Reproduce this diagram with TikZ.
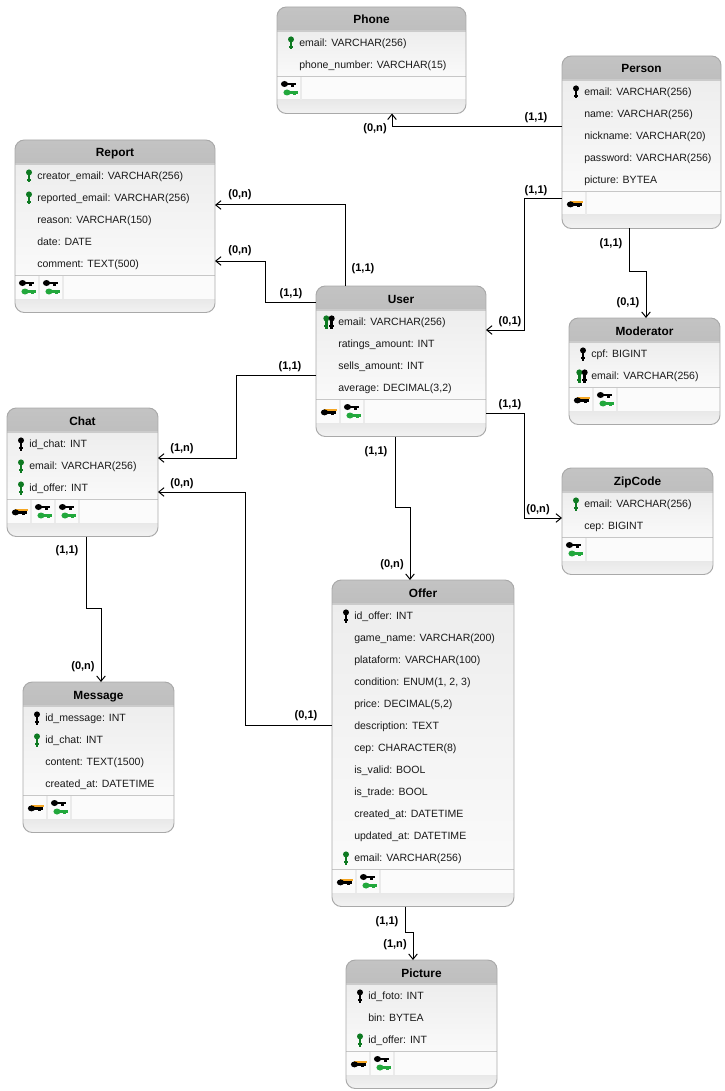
\documentclass[tikz,border=0pt]{standalone}
\usepackage{fontspec}
\setmainfont{Liberation Sans}
\usepackage{xcolor}
\usetikzlibrary{arrows.meta,calc}

\definecolor{headgray}{HTML}{BEBEBE}
\definecolor{edgegray}{HTML}{A9A9A9}
\definecolor{fkgreen}{HTML}{0E7A22}
\definecolor{fklight}{HTML}{22A83C}
\definecolor{pkorange}{HTML}{F5A623}

% one table: name, x, y, width, rows, title, fields, index cells
\newcommand{\entity}[8]{
  \pgfmathsetmacro{\bandtop}{26+22*#5}
  \pgfmathsetmacro{\boxh}{\bandtop+36.5}
  \node[entity, minimum width=#4*0.75pt, minimum height=\boxh*0.75pt] (#1) at (#2+#4/2,#3+\boxh/2) {};
  \begin{scope}
    \clip[rounded corners=7pt] (#1.north west) rectangle (#1.south east);
    \shade[top color=headgray!92!white, bottom color=headgray] (#2,#3) rectangle ++(#4,24);
    \shade[top color=black!7, bottom color=black!2] (#2,#3+24) rectangle ++(#4,\bandtop-24);
    \fill[black!1.5] (#2,#3+\bandtop) rectangle ++(#4,23);
    \shade[top color=black!9, bottom color=black!5] (#2,#3+\bandtop+23) rectangle ++(#4,13.5);
    \draw[edgegray!60, line width=1.1pt] (#2,#3+24) -- ++(#4,0);
    \draw[edgegray!65, line width=1.1pt] (#2,#3+\bandtop-0.5) -- ++(#4,0);
  \end{scope}
  \draw[entityedge] (#1.north west) rectangle (#1.south east);
  \node[tabletitle] (#1-title) at (#1.north |- 0,#3+17) {#6};
  \foreach \kind/\txt [count=\i] in {#7} {
    \pgfmathsetmacro{\rowy}{#3+13+22*\i}
    \node[fieldtext] (#1-f\i) at (#2+22,\rowy+4.7) {\txt};
    \pic at (#2+14,\rowy+1) {\kind};
  }
  \foreach \kind [count=\i] in {#8} {
    \draw[cellsep] (#2+24*\i,#3+\bandtop) -- ++(0,23);
    \pic at (#2+12+24*\i-24,#3+\bandtop+11.5) {\kind};
  }
}

\begin{document}
\begin{tikzpicture}[
    x=0.75pt, y=-0.75pt,
    font=\fontsize{7.9}{10}\selectfont,
    entity/.style     = {inner sep=0pt, outer sep=0pt, rounded corners=7pt},
    entityedge/.style = {draw=edgegray, line width=0.7pt, rounded corners=7pt},
    tabletitle/.style = {font=\fontsize{8.9}{10}\selectfont\bfseries, inner sep=0pt, anchor=base},
    fieldtext/.style  = {anchor=base west, inner sep=0pt, text=black!90},
    card/.style       = {font=\fontsize{8.3}{10}\selectfont\bfseries, inner sep=0pt},
    cellsep/.style    = {draw=black!8, line width=1.2pt},
    rel/.style        = {-{Straight Barb[length=4pt,width=6.5pt]}, line width=0.75pt},
    % field key glyphs
    pics/plain/.style = {code={}},
    pics/keyup/.style = {code={
        \fill[#1] (0,-3.6) circle[radius=3];
        \fill[#1] (-1.3,-3.6) rectangle (1.3,6.5);
        \fill[#1] (-2.4,3.2) rectangle (1.8,5);
    }},
    pics/pk/.style   = {code={\pic {keyup=black};}},
    pics/fk/.style   = {code={\pic {keyup=fkgreen};}},
    pics/both/.style = {code={\pic at (-3.7,0) {keyup=fkgreen}; \pic at (1.7,0) {keyup=black};}},
    % index cell glyphs
    pics/keyflat/.style = {code={
        \fill[#1] (-3.5,0) ellipse[x radius=3.6, y radius=3];
        \fill[#1] (-3.5,-1.4) rectangle (7.5,1.4);
        \fill[#1] (2.5,0) rectangle (5.5,2.8);
    }},
    pics/primary/.style = {code={
        \fill[pkorange] (-4,-2.6) rectangle (8.5,-0.4);
        \pic at (0,0.9) {keyflat=black};
    }},
    pics/foreign/.style = {code={
        \pic at (-1,-4.5) {keyflat=black};
        \pic at (1.5,4) {keyflat=fklight};
    }},
]
\useasboundingbox (0,0) rectangle (724,1091);

% ============ Tables, top of the sheet ============
\entity{phone}{277}{7}{189}{2}{Phone}
  {fk/{email: VARCHAR(256)}, plain/{phone\_number: VARCHAR(15)}}{foreign}
\entity{person}{562}{56}{159}{5}{Person}
  {pk/{email: VARCHAR(256)}, plain/{name: VARCHAR(256)}, plain/{nickname: VARCHAR(20)},
   plain/{password: VARCHAR(256)}, plain/{picture: BYTEA}}{primary}
\entity{report}{15}{140}{200}{5}{Report}
  {fk/{creator\_email: VARCHAR(256)}, fk/{reported\_email: VARCHAR(256)},
   plain/{reason: VARCHAR(150)}, plain/{date: DATE}, plain/{comment: TEXT(500)}}{foreign,foreign}

% ============ Tables, middle ============
\entity{user}{316}{286}{170}{4}{User}
  {both/{email: VARCHAR(256)}, plain/{ratings\_amount: INT}, plain/{sells\_amount: INT},
   plain/{average: DECIMAL(3,2)}}{primary,foreign}
\entity{moderator}{569}{318}{151}{2}{Moderator}
  {pk/{cpf: BIGINT}, both/{email: VARCHAR(256)}}{primary,foreign}
\entity{chat}{7}{408}{151}{3}{Chat}
  {pk/{id\_chat: INT}, fk/{email: VARCHAR(256)}, fk/{id\_offer: INT}}{primary,foreign,foreign}
\entity{zipcode}{562}{468}{151}{2}{ZipCode}
  {fk/{email: VARCHAR(256)}, plain/{cep: BIGINT}}{foreign}

% ============ Tables, bottom ============
\entity{offer}{332}{580}{182}{12}{Offer}
  {pk/{id\_offer: INT}, plain/{game\_name: VARCHAR(200)}, plain/{plataform: VARCHAR(100)},
   plain/{condition: ENUM(1, 2, 3)}, plain/{price: DECIMAL(5,2)}, plain/{description: TEXT},
   plain/{cep: CHARACTER(8)}, plain/{is\_valid: BOOL}, plain/{is\_trade: BOOL},
   plain/{created\_at: DATETIME}, plain/{updated\_at: DATETIME}, fk/{email: VARCHAR(256)}}{primary,foreign}
\entity{message}{23}{682}{151}{4}{Message}
  {pk/{id\_message: INT}, fk/{id\_chat: INT}, plain/{content: TEXT(1500)},
   plain/{created\_at: DATETIME}}{primary,foreign}
\entity{picture}{346}{960}{151}{3}{Picture}
  {pk/{id\_foto: INT}, plain/{bin: BYTEA}, fk/{id\_offer: INT}}{primary,foreign}

% ============ Relations ============
\draw[rel] (person.west |- 0,127) -| (phone.south -| 392,0);
\draw[rel] (person.west |- 0,199) -- ++(-38,0) |- (user.east |- 0,330);
\draw[rel] (person.south -| 629,0) -- ++(0,43) -| (moderator.north -| 646,0);
\draw[rel] (user.north -| 345,0) |- (report.east |- 0,205);
\draw[rel] (user.west |- 0,302) -- ++(-51,0) |- (report.east |- 0,261);
\draw[rel] (user.west |- 0,375) -- ++(-80,0) |- (chat.east |- 0,458);
\draw[rel] (user.east |- 0,413) -- ++(38,0) |- (zipcode.west |- 0,518);
\draw[rel] (user.south -| 395,0) -- ++(0,71) -| (offer.north -| 410,0);
\draw[rel] (offer.west |- 0,725) -- ++(-87,0) |- (chat.east |- 0,492);
\draw[rel] (chat.south -| 86,0) -- ++(0,72) -| (message.north -| 101,0);
\draw[rel] (offer.south -| 405,0) -- ++(0,26) -| (picture.north -| 413,0);

% ============ Cardinalities ============
\foreach \x/\y/\lbl [count=\i] in {
    536/118/{(1,1)}, 375/129/{(0,n)},
    536/191/{(1,1)}, 510/322/{(0,1)},
    611/244/{(1,1)}, 628/303/{(0,1)},
    240/195/{(0,n)}, 363/269/{(1,1)},
    240/251/{(0,n)}, 291/294/{(1,1)},
    290/367/{(1,1)}, 182/449/{(1,n)},
    510/405/{(1,1)}, 538/510/{(0,n)},
    376/452/{(1,1)}, 392/565/{(0,n)},
    306/716/{(0,1)}, 182/484/{(0,n)},
    67/551/{(1,1)},  83/667/{(0,n)},
    387/922/{(1,1)}, 395/945/{(1,n)}}
  \node[card] (card\i) at (\x,\y) {\lbl};

\end{tikzpicture}
\end{document}
